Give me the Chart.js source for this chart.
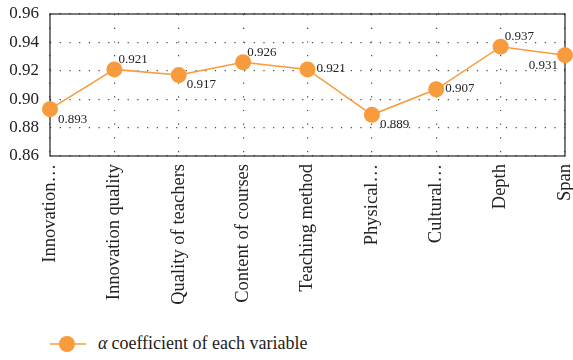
<!DOCTYPE html>
<html>
<head>
<meta charset="utf-8">
<script src="https://cdn.jsdelivr.net/npm/chart.js@4"></script>
<style>
    body { margin: 0; background: #fff; }
    #wrap { position: relative; width: 573px; height: 360px; }
    #legend {
        position: absolute; left: 48px; top: 333px;
        font: 18px "Liberation Serif", serif; color: #222;
        display: flex; align-items: center;
    }
    #legend i { margin-right: 4px; }
</style>
</head>
<body>
<div id="wrap">
    <canvas id="chart" width="573" height="322"></canvas>
    <div id="legend">
        <svg width="44" height="20" style="margin-right:6px">
            <line x1="2" y1="10" x2="38" y2="10" stroke="#f89b3c" stroke-width="1.5"/>
            <circle cx="19" cy="10" r="8" fill="#f89b3c"/>
        </svg>
        <span><i>α</i>coefficient of each variable</span>
    </div>
</div>
<script>
const categories = ["Innovation…", "Innovation quality", "Quality of teachers", "Content of courses",
    "Teaching method", "Physical…", "Cultural…", "Depth", "Span"];
const alphaValues = [0.893, 0.921, 0.917, 0.926, 0.921, 0.889, 0.907, 0.937, 0.931];
const yTicks = [0.86, 0.88, 0.90, 0.92, 0.94, 0.96];

// where each value label sits relative to its point
const labelPlace = ["br", "tr", "br", "tr", "r", "br", "r", "tr", "bl"];

const orange = "#f89b3c";
const serif = "'Liberation Serif', serif";

const frame = {
    id: "frame",
    beforeDatasetsDraw(chart) {
        const a = chart.chartArea, c = chart.ctx;
        c.save();
        c.strokeStyle = "#222";
        c.lineWidth = 1.2;
        c.strokeRect(a.left, a.top, a.right - a.left, a.bottom - a.top);
        c.restore();
    }
};

const valueLabels = {
    id: "valueLabels",
    afterDatasetsDraw(chart) {
        const c = chart.ctx;
        c.save();
        c.font = "13px " + serif;
        c.fillStyle = "#222";
        chart.getDatasetMeta(0).data.forEach((pt, i) => {
            const txt = alphaValues[i].toFixed(3);
            const p = labelPlace[i];
            let x = pt.x, y = pt.y;
            c.textAlign = "left";
            c.textBaseline = "middle";
            if (p === "br") { x += 8; y += 10; }
            else if (p === "tr") { x += 4; y -= 10; }
            else if (p === "r") { x += 9; y -= 1; }
            else if (p === "bl") { x -= 7; y += 10; c.textAlign = "right"; }
            c.fillText(txt, x, y);
        });
        c.restore();
    }
};

new Chart(document.getElementById("chart"), {
    type: "line",
    data: {
        labels: categories,
        datasets: [{
            label: "α coefficient of each variable",
            data: alphaValues,
            borderColor: orange,
            backgroundColor: orange,
            borderWidth: 1.5,
            pointRadius: 8,
            pointHoverRadius: 8,
            pointBorderWidth: 0,
            tension: 0,
            clip: false
        }]
    },
    options: {
        responsive: false,
        animation: false,
        layout: { padding: { top: 14, right: 6, left: 0, bottom: 0 } },
        plugins: {
            legend: { display: false },
            tooltip: { enabled: false }
        },
        scales: {
            x: {
                offset: false,
                grid: { color: "#444", lineWidth: 1.2, drawTicks: false },
                border: { display: false, dash: [1.2, 12.5] },
                ticks: {
                    autoSkip: false, maxRotation: 90, minRotation: 90, padding: 8,
                    color: "#222", font: { family: serif, size: 18.5 }
                },
                afterFit(s) { s.height = 166; s.paddingLeft = 0; s.paddingRight = 0; }
            },
            y: {
                min: 0.86, max: 0.96,
                afterBuildTicks(s) { s.ticks = yTicks.map(v => ({ value: v })); },
                grid: { color: "#444", lineWidth: 1.2, drawTicks: false },
                border: { display: false, dash: [1.2, 8.5] },
                ticks: {
                    padding: 11, color: "#222",
                    font: { family: serif, size: 17 },
                    callback: v => v.toFixed(2)
                },
                afterFit(s) { s.width = 50; s.paddingTop = 0; s.paddingBottom = 0; }
            }
        }
    },
    plugins: [frame, valueLabels]
});
</script>
</body>
</html>
